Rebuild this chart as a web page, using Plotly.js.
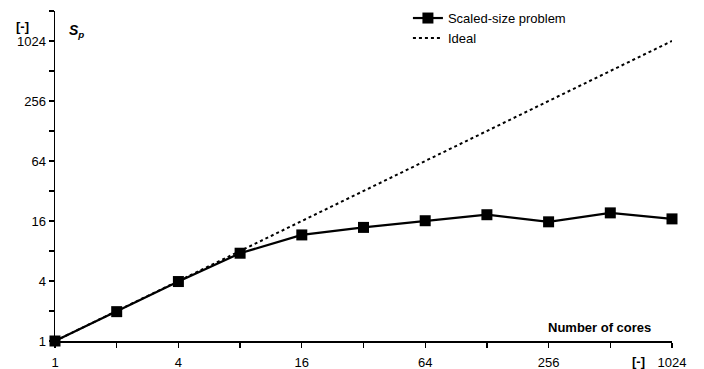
<!DOCTYPE html>
<html>
<head>
<meta charset="utf-8">
<script src="https://cdn.plot.ly/plotly-3.0.1.min.js"></script>
<style>html,body{margin:0;padding:0;background:#fff;}#chart{width:704px;height:369px;}</style>
</head>
<body>
<div id="chart"></div>
<script>
const cores = [1, 2, 4, 8, 16, 32, 64, 128, 256, 512, 1024];
const speedupScaled = [1, 1.97, 3.95, 7.6, 11.6, 13.8, 16.1, 18.5, 15.7, 19.3, 16.8];
const speedupIdeal = [1, 2, 4, 8, 16, 32, 64, 128, 256, 512, 1024];
const xTickVals = [1, 2, 4, 8, 16, 32, 64, 128, 256, 512, 1024];
const xTickText = ["1", "", "4", "", "16", "", "64", "", "256", "", "1024"];
const yTickVals = [1, 2, 4, 8, 16, 32, 64, 128, 256, 512, 1024, 2048];
const yTickText = ["1", "", "4", "", "16", "", "64", "", "256", "", "1024", ""];

const font = {family: "Liberation Sans, Arial, sans-serif", size: 13, color: "#000"};

const traces = [
  {
    x: cores, y: speedupScaled, name: "Scaled-size problem",
    type: "scatter", mode: "lines+markers",
    line: {color: "#000", width: 2.2},
    marker: {symbol: "square", size: 11, color: "#000"},
    cliponaxis: false
  },
  {
    x: cores, y: speedupIdeal, name: "Ideal",
    type: "scatter", mode: "lines",
    line: {color: "#000", width: 2, dash: "dot"},
    cliponaxis: false
  }
];

const layout = {
  width: 704, height: 369,
  margin: {l: 55, r: 32, t: 11, b: 28, autoexpand: false},
  paper_bgcolor: "#fff", plot_bgcolor: "#fff",
  font: font,
  showlegend: true,
  legend: {x: 0.572, y: 1.024, xanchor: "left", yanchor: "top", bgcolor: "rgba(0,0,0,0)", font: font, itemwidth: 30, tracegroupgap: 0},
  xaxis: {
    type: "log", range: [0, Math.log10(1024)],
    tickvals: xTickVals, ticktext: xTickText,
    ticks: "outside", ticklen: 5, tickwidth: 1.3, tickcolor: "#000",
    ticklabelstandoff: 4,
    showline: true, linecolor: "#000", linewidth: 1.5,
    showgrid: false, zeroline: false, tickfont: font, automargin: false
  },
  yaxis: {
    type: "log", range: [0, Math.log10(2048)],
    tickvals: yTickVals, ticktext: yTickText,
    ticks: "outside", ticklen: 5, tickwidth: 1.3, tickcolor: "#000",
    showline: true, linecolor: "#000", linewidth: 1.5,
    showgrid: false, zeroline: false, tickfont: font, automargin: false
  },
  annotations: [
    {xref: "paper", yref: "paper", x: -0.052, y: 0.952, xanchor: "center", yanchor: "middle",
     text: "<b>[-]</b>", showarrow: false, font: font},
    {xref: "paper", yref: "paper", x: 0.02, y: 0.94, xanchor: "left", yanchor: "middle",
     text: "<b><i>S<sub>p</sub></i></b>", showarrow: false, font: {family: font.family, size: 14, color: "#000"}},
    {xref: "paper", yref: "paper", x: 0.969, y: 0.04, xanchor: "right", yanchor: "middle",
     text: "<b>Number of cores</b>", showarrow: false, font: font},
    {xref: "paper", yref: "paper", x: 0.945, y: -0.063, xanchor: "center", yanchor: "middle",
     text: "<b>[-]</b>", showarrow: false, font: font}
  ]
};

Plotly.newPlot("chart", traces, layout, {displayModeBar: false, staticPlot: true});
</script>
</body>
</html>
